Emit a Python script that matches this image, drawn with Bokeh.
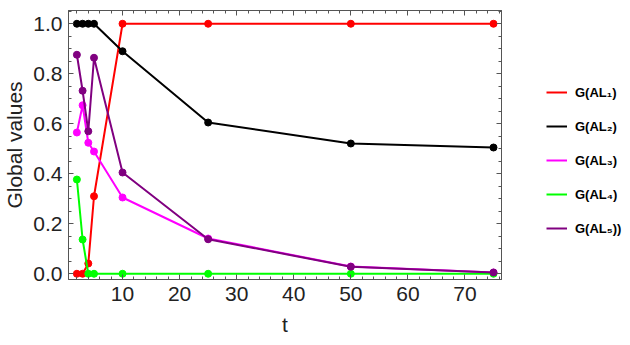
from bokeh.plotting import figure
from bokeh.layouts import row
from bokeh.models import (Range1d, FixedTicker, LinearAxis, Legend, LegendItem,
                          CustomJSTickFormatter)
from bokeh.embed import file_html
from bokeh.resources import INLINE

t = [2, 3, 4, 5, 10, 25, 50, 75]
g_al1 = [0.0, 0.0, 0.041, 0.31, 1.0, 1.0, 1.0, 1.0]
g_al2 = [1.0, 1.0, 1.0, 1.0, 0.89, 0.605, 0.521, 0.505]
g_al3 = [0.565, 0.674, 0.524, 0.489, 0.305, 0.141, 0.029, 0.005]
g_al4 = [0.377, 0.137, 0.0, 0.0, 0.0, 0.0, 0.0, 0.0]
g_al5 = [0.876, 0.732, 0.570, 0.864, 0.405, 0.138, 0.028, 0.005]

series = [
    ("G(AL\u2081)", g_al1, "#ff0000"),
    ("G(AL\u2082)", g_al2, "#000000"),
    ("G(AL\u2083)", g_al3, "#ff00ff"),
    ("G(AL\u2084)", g_al4, "#00ff00"),
    ("G(AL\u2085))", g_al5, "#800080"),
]

x_major = [10, 20, 30, 40, 50, 60, 70]
x_minor = [v for v in range(2, 77, 2)]
y_major = [0.0, 0.2, 0.4, 0.6, 0.8, 1.0]
y_minor = [round(i * 0.05, 2) for i in range(0, 22)]

FONT = "Liberation Sans"
FRAME = "#555555"
TXT = "#222222"

p = figure(width=504, height=345, output_backend="svg", toolbar_location=None,
           x_range=Range1d(0.53, 76.4), y_range=Range1d(-0.023, 1.053),
           x_axis_location=None, y_axis_location=None,
           min_border_left=66, min_border_right=3,
           min_border_top=10, min_border_bottom=66)
p.grid.visible = False
p.outline_line_color = FRAME
p.outline_line_width = 1
p.background_fill_color = "white"
p.border_fill_color = "white"

def style_axis(ax, labels=True):
    ax.axis_line_color = FRAME
    ax.major_tick_line_color = FRAME
    ax.minor_tick_line_color = FRAME
    ax.major_tick_in = 5
    ax.major_tick_out = 0
    ax.minor_tick_in = 3
    ax.minor_tick_out = 0
    if labels:
        ax.major_label_text_font = FONT
        ax.major_label_text_font_size = "21px"
        ax.major_label_text_color = TXT
        ax.axis_label_text_font = FONT
        ax.axis_label_text_font_size = "21px"
        ax.axis_label_text_font_style = "normal"
        ax.axis_label_text_color = TXT
    else:
        ax.major_label_text_font_size = "0px"
        ax.major_label_standoff = 0

xt = FixedTicker(ticks=x_major, minor_ticks=x_minor)
yt = FixedTicker(ticks=y_major, minor_ticks=y_minor)

xb = LinearAxis(ticker=xt, axis_label="t")
style_axis(xb)
xb.major_label_standoff = 7
xb.axis_label_standoff = 9
p.add_layout(xb, "below")

yl = LinearAxis(ticker=yt, axis_label="Global values",
                formatter=CustomJSTickFormatter(code="return tick.toFixed(1);"))
style_axis(yl)
yl.major_label_standoff = 6
yl.axis_label_standoff = 4
p.add_layout(yl, "left")

xa = LinearAxis(ticker=xt)
style_axis(xa, labels=False)
p.add_layout(xa, "above")
yr = LinearAxis(ticker=yt)
style_axis(yr, labels=False)
p.add_layout(yr, "right")

# legend panel: a separate figure; its swatch renderers are hidden copies of the series
q = figure(width=126, height=345, output_backend="svg", toolbar_location=None,
           x_axis_location=None, y_axis_location=None,
           min_border_left=0, min_border_right=0,
           min_border_top=0, min_border_bottom=0)
q.grid.visible = False
q.outline_line_color = None
q.background_fill_color = "white"
q.border_fill_color = "white"

items = []
for name, vals, col in series:
    p.line(t, vals, line_color=col, line_width=2)
    p.scatter(t, vals, size=7, fill_color=col, line_color=col)
    sw = q.line(t, vals, line_color=col, line_width=2, visible=False)
    items.append(LegendItem(label=name, renderers=[sw]))

legend = Legend(items=items, location=(42, 41), padding=0, margin=0,
                glyph_width=21, glyph_height=20, label_height=20,
                label_standoff=8, spacing=14, click_policy="none",
                inactive_fill_alpha=0,
                label_text_font=FONT, label_text_font_size="13px",
                label_text_font_style="bold", label_text_color="#000000",
                border_line_color=None, background_fill_alpha=0)
q.add_layout(legend, "center")

layout = row(p, q, spacing=0)
open("out.html", "w").write(file_html(layout, INLINE))
